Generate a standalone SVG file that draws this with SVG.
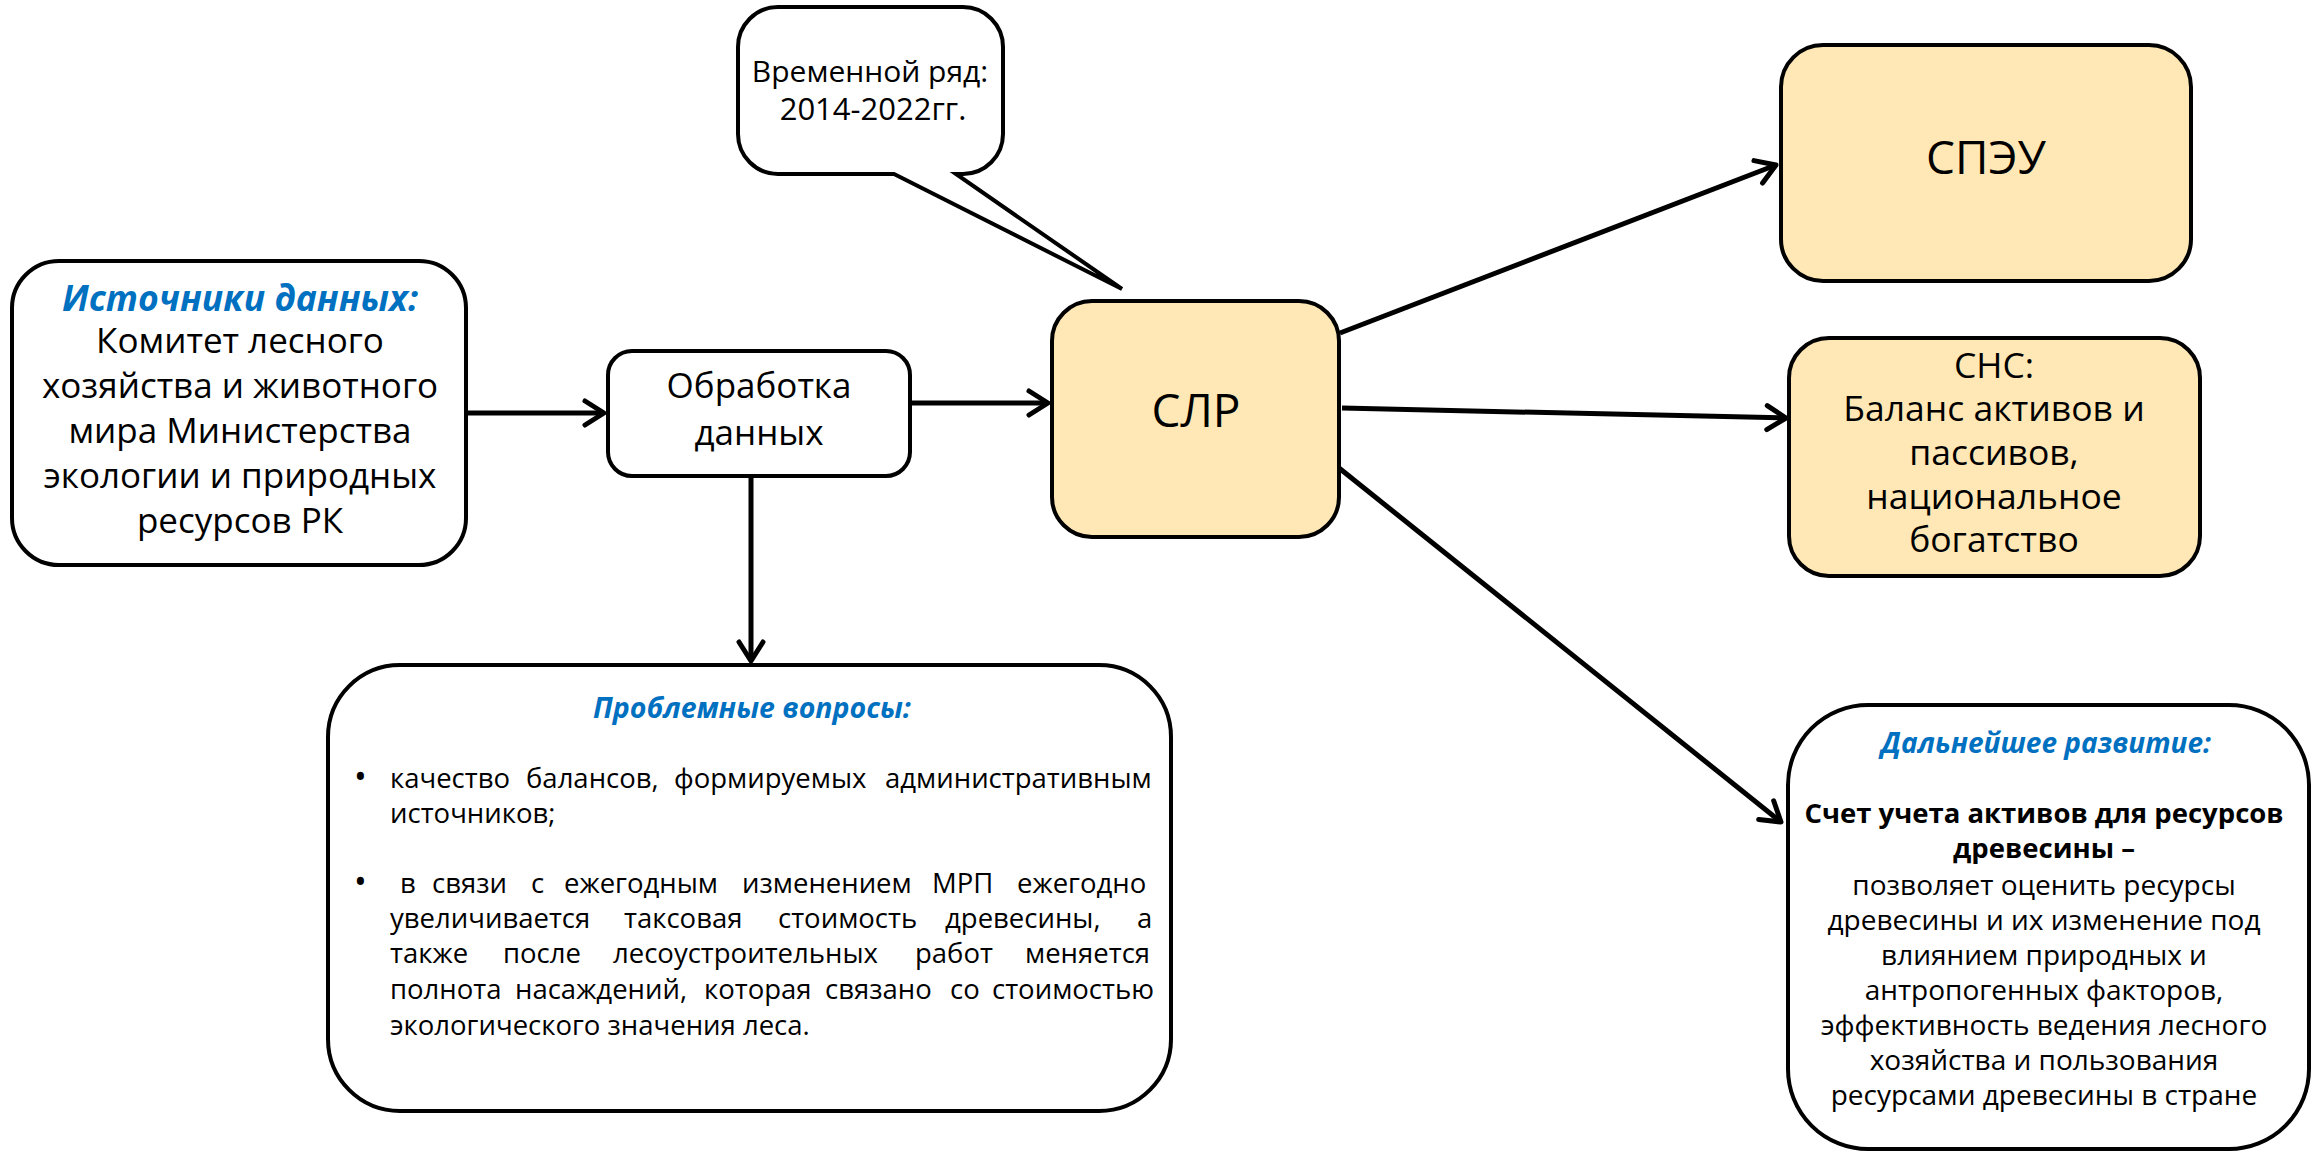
<svg xmlns="http://www.w3.org/2000/svg" width="2313" height="1152" viewBox="0 0 2313 1152">
<defs>
<style>
.box{stroke:#000;stroke-width:4}
.y{fill:#FFE8B5}
.w{fill:#fff}
.t{font-family:"Open Sans","Noto Sans",sans-serif;fill:#000}
.c{text-anchor:middle}
.blue{fill:#0070C0;font-weight:bold;font-style:italic}
.b{font-weight:bold}
.conn{stroke:#000;stroke-width:5;fill:none;marker-end:url(#ah)}
</style>
<marker id="ah" markerUnits="userSpaceOnUse" viewBox="-24 -16 30 32" refX="0" refY="0" markerWidth="30" markerHeight="32" orient="auto">
<path d="M-19,-12 L0,0 L-19,12" fill="none" stroke="#000" stroke-width="5" stroke-linecap="round" stroke-linejoin="round"/>
</marker>
</defs>
<rect width="2313" height="1152" fill="#fff"/>

<g id="connectors">
<line class="conn" x1="467" y1="413" x2="604" y2="413"/>
<line class="conn" x1="910" y1="403" x2="1048" y2="403"/>
<line class="conn" x1="751" y1="477" x2="751" y2="661"/>
<line class="conn" x1="1340" y1="333" x2="1776" y2="165"/>
<line class="conn" x1="1342" y1="408" x2="1786" y2="418"/>
<line class="conn" x1="1339" y1="468" x2="1781" y2="822"/>
</g>

<g id="callout">
<path class="box w" stroke-width="3.5" d="M778 7 H963 A40 40 0 0 1 1003 47 V134 A40 40 0 0 1 963 174 H956 L1122 289 L894 174 H778 A40 40 0 0 1 738 134 V47 A40 40 0 0 1 778 7 Z"/>
<text class="t c" x="870" y="82" font-size="30">Временной ряд:</text>
<text class="t c" x="873" y="120" font-size="31">2014-2022гг.</text>
</g>

<g id="sources">
<rect class="box w" x="12" y="261" width="454" height="304" rx="47"/>
<text class="t c blue" x="240" y="311" font-size="35.5">Источники данных:</text>
<text class="t c" x="240" y="353" font-size="35">Комитет лесного</text>
<text class="t c" x="240" y="398" font-size="35">хозяйства и животного</text>
<text class="t c" x="240" y="443" font-size="35">мира Министерства</text>
<text class="t c" x="240" y="488" font-size="35">экологии и природных</text>
<text class="t c" x="240" y="533" font-size="35">ресурсов РК</text>
</g>

<g id="processing">
<rect class="box w" x="608" y="351" width="302" height="125" rx="24"/>
<text class="t c" x="759" y="398" font-size="35">Обработка</text>
<text class="t c" x="759" y="445" font-size="35">данных</text>
</g>

<g id="slr">
<rect class="box y" x="1052" y="301" width="287" height="236" rx="40"/>
<text class="t c" x="1196" y="427" font-size="46">СЛР</text>
</g>

<g id="speu">
<rect class="box y" x="1781" y="45" width="410" height="236" rx="42"/>
<text class="t c" x="1986" y="174" font-size="46">СПЭУ</text>
</g>

<g id="sns">
<rect class="box y" x="1789" y="338" width="411" height="238" rx="40"/>
<text class="t c" x="1994" y="378" font-size="35.5">СНС:</text>
<text class="t c" x="1994" y="421" font-size="35.5">Баланс активов и</text>
<text class="t c" x="1994" y="465" font-size="35.5">пассивов,</text>
<text class="t c" x="1994" y="509" font-size="35.5">национальное</text>
<text class="t c" x="1994" y="552" font-size="35.5">богатство</text>
</g>

<g id="problems">
<rect class="box w" x="328" y="665" width="843" height="446" rx="72"/>
<text class="t c blue" x="752" y="718" font-size="28.5">Проблемные вопросы:</text>
<g class="t" font-size="27.5">
<text x="354" y="789" font-size="34">•</text>
<text y="788"><tspan x="390">качество</tspan><tspan x="526">балансов,</tspan><tspan x="674">формируемых</tspan><tspan x="885">административным</tspan></text>
<text x="390" y="823">источников;</text>
<text x="354" y="894" font-size="34">•</text>
<text y="893"><tspan x="400">в</tspan><tspan x="432">связи</tspan><tspan x="531">с</tspan><tspan x="564">ежегодным</tspan><tspan x="742">изменением</tspan><tspan x="932">МРП</tspan><tspan x="1017">ежегодно</tspan></text>
<text y="928"><tspan x="390">увеличивается</tspan><tspan x="624">таксовая</tspan><tspan x="778">стоимость</tspan><tspan x="945">древесины,</tspan><tspan x="1137">а</tspan></text>
<text y="963"><tspan x="390">также</tspan><tspan x="503">после</tspan><tspan x="613">лесоустроительных</tspan><tspan x="915">работ</tspan><tspan x="1025">меняется</tspan></text>
<text y="999"><tspan x="390">полнота</tspan><tspan x="515">насаждений,</tspan><tspan x="704">которая</tspan><tspan x="825">связано</tspan><tspan x="950">со</tspan><tspan x="992">стоимостью</tspan></text>
<text x="390" y="1035">экологического значения леса.</text>
</g>
</g>

<g id="development">
<rect class="box w" x="1788" y="705" width="521" height="444" rx="80"/>
<text class="t c blue" x="2046" y="753" font-size="28">Дальнейшее развитие:</text>
<text class="t c b" x="2044" y="823" font-size="27.5">Счет учета активов для ресурсов</text>
<text class="t c b" x="2044" y="858" font-size="27.5">древесины –</text>
<text class="t c" x="2044" y="895" font-size="28">позволяет оценить ресурсы</text>
<text class="t c" x="2044" y="930" font-size="28">древесины и их изменение под</text>
<text class="t c" x="2044" y="965" font-size="28">влиянием природных и</text>
<text class="t c" x="2044" y="1000" font-size="28">антропогенных факторов,</text>
<text class="t c" x="2044" y="1035" font-size="28">эффективность ведения лесного</text>
<text class="t c" x="2044" y="1070" font-size="28">хозяйства и пользования</text>
<text class="t c" x="2044" y="1105" font-size="28">ресурсами древесины в стране</text>
</g>
</svg>
